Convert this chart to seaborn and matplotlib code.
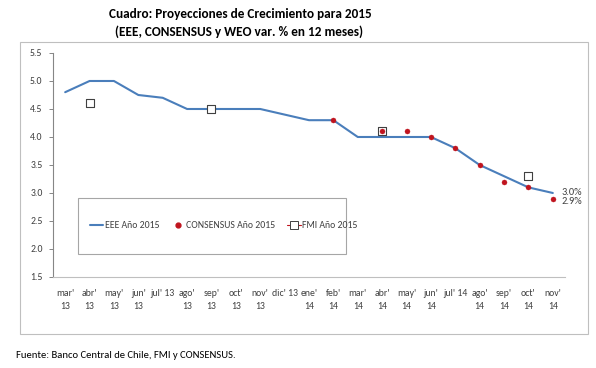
import numpy as np
import pandas as pd
import matplotlib
matplotlib.use('Agg')
import matplotlib.pyplot as plt
import seaborn as sns
from matplotlib.lines import Line2D
from matplotlib.patches import Rectangle

sns.set_style('white')
plt.rcParams['font.family'] = ['Carlito', 'DejaVu Sans']

months = ["mar'\n13", "abr'\n13", "may'\n13", "jun'\n13", "jul' 13", "ago'\n13", "sep'\n13",
          "oct'\n13", "nov'\n13", "dic' 13", "ene'\n14", "feb'\n14", "mar'\n14", "abr'\n14",
          "may'\n14", "jun'\n14", "jul' 14", "ago'\n14", "sep'\n14", "oct'\n14", "nov'\n14"]
eee = [4.8, 5.0, 5.0, 4.75, 4.7, 4.5, 4.5, 4.5, 4.5, 4.4, 4.3, 4.3, 4.0, 4.0, 4.0, 4.0,
       3.8, 3.5, 3.3, 3.1, 3.0]
nan = np.nan
consensus = [nan, nan, nan, nan, nan, nan, nan, nan, nan, nan, nan, 4.3, nan, 4.1, 4.1, 4.0,
             3.8, 3.5, 3.2, 3.1, 2.9]
fmi = [nan, 4.6, nan, nan, nan, nan, 4.5, nan, nan, nan, nan, nan, nan, 4.1, nan, nan,
       nan, nan, nan, 3.3, nan]

df = pd.DataFrame({'pos': np.arange(len(months)), 'EEE': eee, 'CONSENSUS': consensus, 'FMI': fmi})

blue = '#4A7EBB'
red = '#C0141E'
gray_txt = '#404040'

fig = plt.figure(figsize=(5.96, 3.68), dpi=100)
ax = fig.add_axes([0.0889, 0.2473, 0.8591, 0.6087])

sns.lineplot(data=df, x='pos', y='EEE', color=blue, linewidth=1.5, ax=ax, zorder=2)
sns.scatterplot(data=df.dropna(subset=['FMI']), x='pos', y='FMI', marker='s', s=30,
                facecolor='white', edgecolor='#404040', linewidth=0.8, ax=ax, zorder=3)
sns.scatterplot(data=df.dropna(subset=['CONSENSUS']), x='pos', y='CONSENSUS', marker='o', s=13,
                color=red, edgecolor=red, linewidth=0.3, ax=ax, zorder=4)

ax.set_xlim(-0.5, len(months) - 0.5)
ax.set_ylim(1.5, 5.5)
ax.set_yticks(np.arange(1.5, 5.51, 0.5))
ax.set_yticklabels([f'{v:.1f}' for v in np.arange(1.5, 5.51, 0.5)])
ax.set_xticks(df['pos'])
ax.set_xticklabels(months, linespacing=1.5, va='top')
ax.set_xticks(np.arange(-0.5, len(months), 1), minor=True)
ax.tick_params(axis='x', which='major', length=0, pad=9, labelsize=7, colors=gray_txt)
ax.tick_params(axis='x', which='minor', length=3.5, width=0.7, color='#BFBFBF', direction='out')
ax.tick_params(axis='y', length=3, width=0.7, color='#868686', pad=4.5, labelsize=7,
               labelcolor=gray_txt, direction='out', left=True)
ax.set_xlabel('')
ax.set_ylabel('')
for side in ['top', 'right']:
    ax.spines[side].set_visible(False)
ax.spines['left'].set_color('#868686')
ax.spines['left'].set_linewidth(0.8)
ax.spines['bottom'].set_color('#BFBFBF')
ax.spines['bottom'].set_linewidth(0.8)

ax.text(len(months) - 0.65, eee[-1], '3.0%', fontsize=7.5, color=gray_txt, va='center', ha='left')
ax.text(len(months) - 0.65, consensus[-1] + 0.02, '2.9%', fontsize=7.5, color=gray_txt,
        va='top', ha='left')

# legend box
ax.add_patch(Rectangle((0.049, 0.103), 0.523, 0.25, transform=ax.transAxes,
                       facecolor='white', edgecolor='#A6A6A6', linewidth=0.8, zorder=5))
handles = [Line2D([], [], color=blue, linewidth=1.5),
           Line2D([], [], color=red, marker='o', markersize=3.5, linestyle='none'),
           Line2D([], [], color=red, linewidth=0.8, marker='s', markersize=5.5,
                  markerfacecolor='white', markeredgecolor='#404040', markeredgewidth=0.7)]
ax.legend(handles, ['EEE Año 2015', 'CONSENSUS Año 2015', 'FMI Año 2015'], ncol=3,
          loc='center left', bbox_to_anchor=(0.072, 0.228), frameon=False, fontsize=7,
          handlelength=1.4, handletextpad=0.15, columnspacing=1.2, labelcolor=gray_txt,
          borderpad=0, borderaxespad=0)
ax.get_legend().set_zorder(6)

# outer chart frame
fig.patches.append(Rectangle((0.0336, 0.0924), 0.9534, 0.7936, transform=fig.transFigure,
                             facecolor='none', edgecolor='#BFBFBF', linewidth=0.8))

fig.text(0.404, 0.963, 'Cuadro: Proyecciones de Crecimiento para 2015', ha='center',
         va='center', fontsize=9.5, fontweight='bold', color='black')
fig.text(0.401, 0.915, '(EEE, CONSENSUS y WEO var. % en 12 meses)', ha='center',
         va='center', fontsize=9.5, fontweight='bold', color='black')
fig.text(0.027, 0.035, 'Fuente: Banco Central de Chile, FMI y CONSENSUS.', ha='left',
         va='center', fontsize=7.7, color='black')

fig.savefig('out.png', dpi=100)
